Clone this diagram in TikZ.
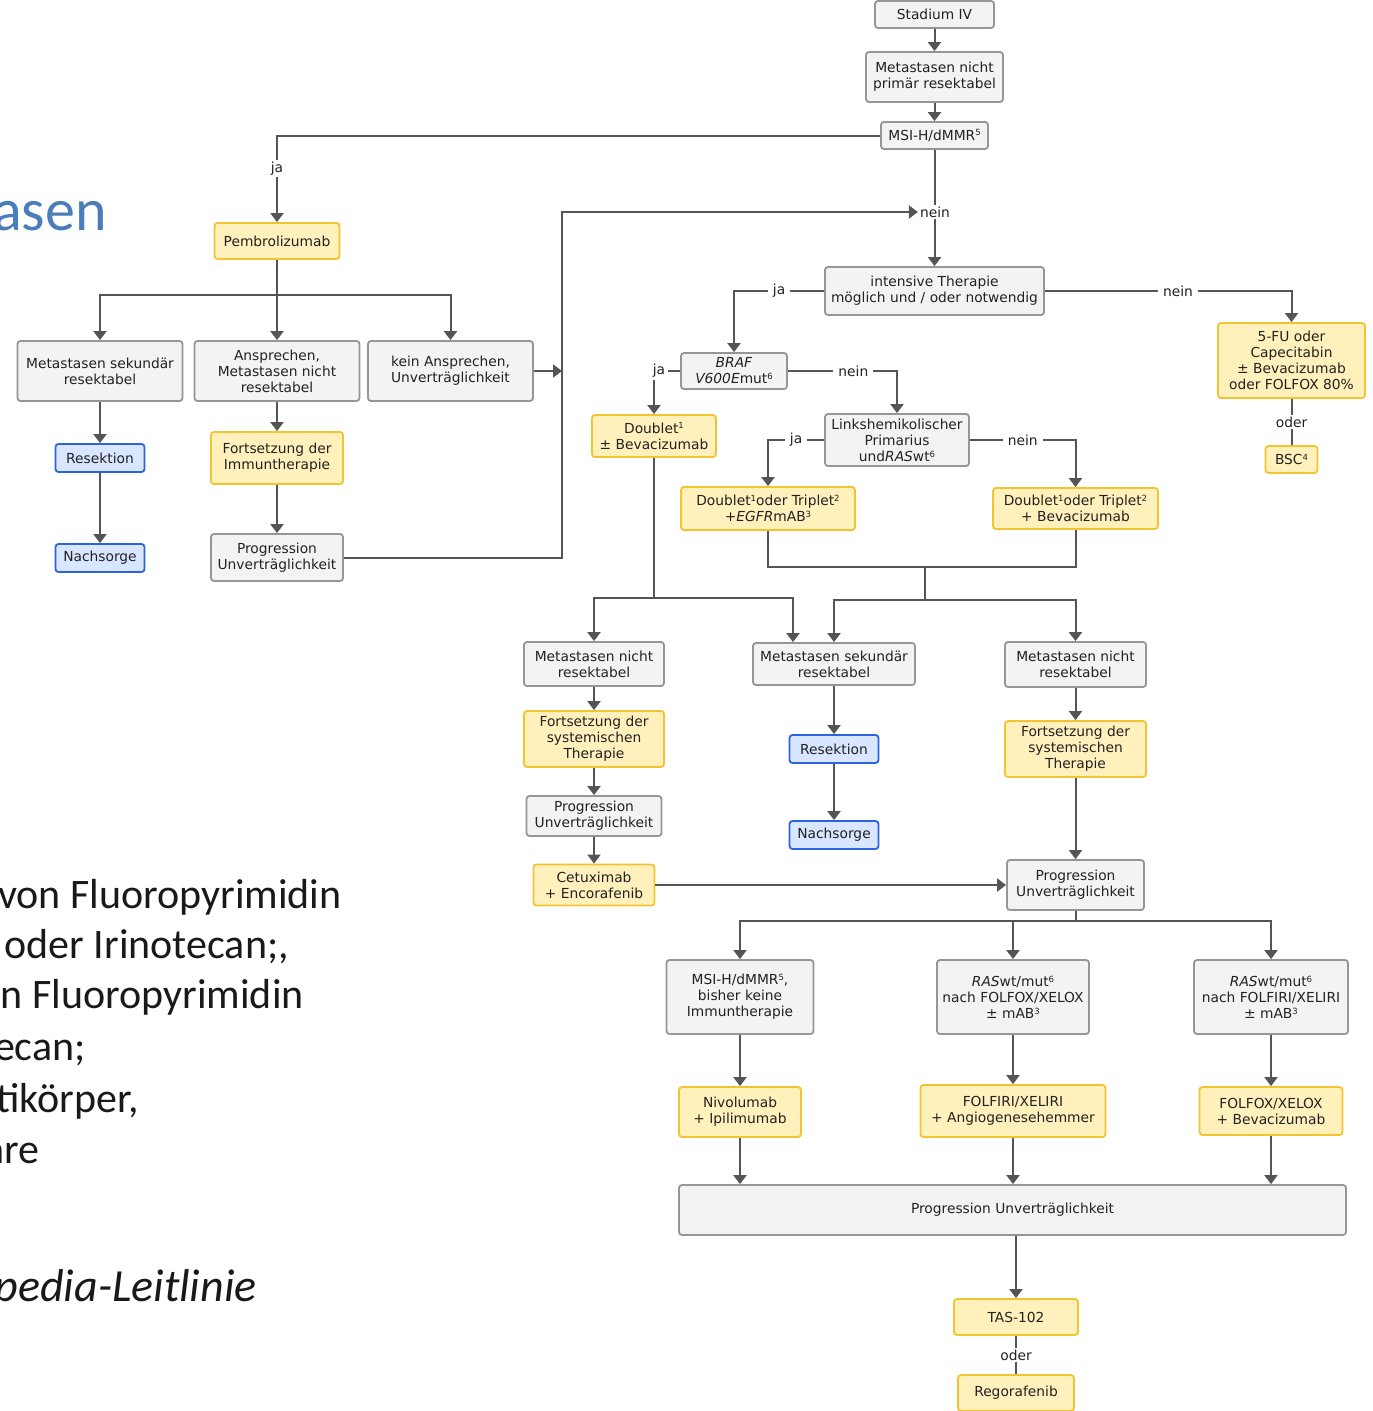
\documentclass[tikz,border=0pt]{standalone}
\usepackage{fontspec}
\setmainfont{DejaVu Sans}
\newfontfamily\slidefont{Carlito}
\usetikzlibrary{arrows.meta,calc}

\definecolor{lineC}{HTML}{555555}
\definecolor{gFill}{HTML}{F3F3F3}
\definecolor{gLine}{HTML}{969696}
\definecolor{yFill}{HTML}{FFF0BC}
\definecolor{yLine}{HTML}{F4C430}
\definecolor{bFill}{HTML}{D9E6FF}
\definecolor{bLine}{HTML}{2A64E0}
\definecolor{titleC}{HTML}{4A7EBB}
\definecolor{txtC}{HTML}{222222}

% small raised footnote digits
\newcommand\supnum[1]{\raisebox{0.55ex}{\fontsize{8.5}{8.5}\selectfont #1}}

\tikzset{
  boxbase/.style={rounded corners=3pt, line width=1.8pt, align=center, inner sep=0pt,
    font=\fontsize{13.8}{16}\selectfont, text=txtC},
  gbox/.style={boxbase, draw=gLine, fill=gFill},
  ybox/.style={boxbase, draw=yLine, fill=yFill},
  bbox/.style={boxbase, draw=bLine, fill=bFill},
  sz/.style 2 args={minimum width=#1pt, minimum height=#2pt},
  arr/.style={draw=lineC, line width=2pt, -{Triangle[width=13pt,length=9pt]}},
  ln/.style={draw=lineC, line width=2pt},
  lbl/.style={fill=white, inner xsep=5pt, inner ysep=2pt, text=txtC, font=\fontsize{13.8}{16}\selectfont},
  slide/.style={anchor=base east, inner sep=0pt, text=black!90,
    font=\slidefont\fontsize{42}{42}\selectfont},
}

\begin{document}
\begin{tikzpicture}[x=1pt,y=-1pt]
\useasboundingbox (0,0) rectangle (1373,1411);
\fill[white] (0,0) rectangle (1373,1411);

% ---------- text of the slide ----------
\node[anchor=base east, inner sep=0pt, text=titleC,
  font=\slidefont\fontsize{60}{60}\selectfont] (ttl) at (107,230) {asen};
\node[slide] (s1) at (342,908) {von Fluoropyrimidin};
\node[slide] (s2) at (289,958) {oder Irinotecan;,};
\node[slide] (s3) at (304,1008) {n Fluoropyrimidin};
\node[slide] (s4) at (86,1060) {ecan;};
\node[slide] (s5) at (139,1112) {tikörper,};
\node[slide] (s6) at (40,1163) {are};
\node[slide,font=\slidefont\itshape\fontsize{46}{46}\selectfont] (s7) at (257,1301) {pedia-Leitlinie};

% ---------- boxes ----------
\node[gbox,sz={119}{27}] (st) at (934.5,14.5) {Stadium IV};
\node[gbox,sz={137}{50}] (mnp) at (934.5,77) {Metastasen nicht\\primär resektabel};
\node[gbox,sz={107}{27}] (msi) at (934.5,135.5) {MSI-H/dMMR\supnum{5}};
\node[gbox,sz={219}{48}] (int) at (934.5,291) {intensive Therapie\\möglich und / oder notwendig};

\node[ybox,sz={125}{36}] (pem) at (277,241) {Pembrolizumab};
\node[gbox,sz={165}{60}] (msr1) at (100,371) {Metastasen sekundär\\resektabel};
\node[gbox,sz={165}{60}] (ans) at (277,371) {Ansprechen,\\Metastasen nicht\\resektabel};
\node[gbox,sz={165}{60}] (kein) at (450.5,371) {kein Ansprechen,\\Unverträglichkeit};
\node[bbox,sz={89}{28}] (res1) at (100,458) {Resektion};
\node[bbox,sz={89}{28}] (nach1) at (100,558) {Nachsorge};
\node[ybox,sz={132}{52}] (fim) at (277,458) {Fortsetzung der\\Immuntherapie};
\node[gbox,sz={132}{47}] (prog1) at (277,557.5) {Progression\\Unverträglichkeit};

\node[gbox,sz={106}{36}] (braf) at (734,371) {\textit{BRAF}\\\textit{V600E}mut\supnum{6}};
\node[ybox,sz={124}{42}] (dbev) at (654,436) {Doublet\supnum{1}\\± Bevacizumab};
\node[gbox,sz={144}{52}] (links) at (897,440) {Linkshemikolischer\\Primarius\\und\textit{RAS}wt\supnum{6}};
\node[ybox,sz={174}{43}] (degfr) at (768,508.5) {Doublet\supnum{1}oder Triplet\supnum{2}\\+\textit{EGFR}mAB\supnum{3}};
\node[ybox,sz={165}{41}] (dtbev) at (1075.5,508.5) {Doublet\supnum{1}oder Triplet\supnum{2}\\+ Bevacizumab};
\node[ybox,sz={147}{75}] (fu) at (1291.5,360.5) {5-FU oder\\Capecitabin\\± Bevacizumab\\oder FOLFOX 80\%};
\node[ybox,sz={52}{27}] (bsc) at (1291.5,459.5) {BSC\supnum{4}};

\node[gbox,sz={140}{44}] (mnr2) at (594,664) {Metastasen nicht\\resektabel};
\node[ybox,sz={140}{56}] (fsys2) at (594,739) {Fortsetzung der\\systemischen\\Therapie};
\node[gbox,sz={135}{40}] (prog2) at (594,816) {Progression\\Unverträglichkeit};
\node[ybox,sz={121}{41}] (cetu) at (594,885) {Cetuximab\\+ Encorafenib};

\node[gbox,sz={162}{42}] (msr3) at (834,664) {Metastasen sekundär\\resektabel};
\node[bbox,sz={89}{28}] (res3) at (834,749) {Resektion};
\node[bbox,sz={89}{28}] (nach3) at (834,835) {Nachsorge};

\node[gbox,sz={141}{45}] (mnr4) at (1075.5,664.5) {Metastasen nicht\\resektabel};
\node[ybox,sz={141}{56}] (fsys4) at (1075.5,749) {Fortsetzung der\\systemischen\\Therapie};
\node[gbox,sz={137}{50}] (prog4) at (1075.5,885) {Progression\\Unverträglichkeit};

\node[gbox,sz={147}{74}] (msi5) at (740,997) {MSI-H/dMMR\supnum{5},\\bisher keine\\Immuntherapie};
\node[gbox,sz={152}{74}] (ras1) at (1013,997) {\textit{RAS}wt/mut\supnum{6}\\nach FOLFOX/XELOX\\± mAB\supnum{3}};
\node[gbox,sz={154}{74}] (ras2) at (1271,997) {\textit{RAS}wt/mut\supnum{6}\\nach FOLFIRI/XELIRI\\± mAB\supnum{3}};
\node[ybox,sz={122}{50}] (nivo) at (740,1112) {Nivolumab\\+ Ipilimumab};
\node[ybox,sz={185}{52}] (folfiri) at (1013,1111) {FOLFIRI/XELIRI\\+ Angiogenesehemmer};
\node[ybox,sz={143}{48}] (folfox) at (1271,1111) {FOLFOX/XELOX\\+ Bevacizumab};
\node[gbox,sz={667}{50}] (progall) at (1012.5,1210) {Progression Unverträglichkeit};
\node[ybox,sz={124}{36}] (tas) at (1016,1317) {TAS-102};
\node[ybox,sz={116}{36}] (rego) at (1016,1393) {Regorafenib};

% ---------- connectors: top ----------
\draw[arr] (st) -- (mnp);
\draw[arr] (mnp) -- (msi);
\draw[arr] (msi.west) -| node[lbl,pos=0.69]{ja} (pem.north);
\draw[arr] (msi.south) -- (int.north);
\node[lbl,inner xsep=2pt] (nein1) at (935,212) {nein};

% left branch (immunotherapy)
\coordinate (pj) at (277,295);
\draw[ln] (pem.south) -- (pj);
\draw[arr] (pj) -| (msr1.north);
\draw[arr] (pj) -- (ans.north);
\draw[arr] (pj) -| (kein.north);
\draw[arr] (msr1) -- (res1);
\draw[arr] (res1) -- (nach1);
\draw[arr] (ans) -- (fim);
\draw[arr] (fim) -- (prog1);
\coordinate (loopc) at (562,212);
\draw[arr] (prog1.east) -| (loopc) -- (nein1.west);
\draw[arr] (kein.east) -- (kein.east -| loopc);

% intensive therapy decisions
\draw[arr] (int.west) -| node[lbl,pos=0.25]{ja} (braf.north);
\draw[arr] (int.east) -| node[lbl,pos=0.27]{nein} (fu.north);
\draw[ln] (fu) -- node[lbl]{oder} (bsc);
\draw[arr] (braf.west) -| node[lbl,pos=0.5,xshift=5pt,inner xsep=3pt]{ja} (dbev.north);
\draw[arr] (braf.east) -| node[lbl,pos=0.3]{nein} (links.north);
\draw[arr] (links.west) -| node[lbl,pos=0.25]{ja} (degfr.north);
\draw[arr] (links.east) -| node[lbl,pos=0.25]{nein} (dtbev.north);

% first line results
\coordinate (dj) at (654,598);
\draw[ln] (dbev.south) -- (dj);
\draw[arr] (dj) -| (mnr2.north);
\draw[arr] (dj) -| ([xshift=-41pt]msr3.north);
\coordinate (ej) at (925,567);
\coordinate (ej2) at (925,600);
\draw[ln] (degfr.south) |- (ej);
\draw[ln] (dtbev.south) |- (ej);
\draw[ln] (ej) -- (ej2);
\draw[arr] (ej2) -| (msr3.north);
\draw[arr] (ej2) -| (mnr4.north);

\draw[arr] (mnr2) -- (fsys2);
\draw[arr] (fsys2) -- (prog2);
\draw[arr] (prog2) -- (cetu);
\draw[arr] (msr3) -- (res3);
\draw[arr] (res3) -- (nach3);
\draw[arr] (mnr4) -- (fsys4);
\draw[arr] (fsys4) -- (prog4);
\draw[arr] (cetu.east) -- (prog4.west);

% second line
\coordinate (pj4) at (1075.5,921);
\draw[ln] (prog4.south) -- (pj4);
\draw[arr] (pj4) -| (msi5.north);
\draw[arr] (pj4) -| (ras1.north);
\draw[arr] (pj4) -| (ras2.north);
\draw[arr] (msi5) -- (nivo);
\draw[arr] (ras1) -- (folfiri);
\draw[arr] (ras2) -- (folfox);
\draw[arr] (nivo.south) -- (nivo.south |- progall.north);
\draw[arr] (folfiri.south) -- (folfiri.south |- progall.north);
\draw[arr] (folfox.south) -- (folfox.south |- progall.north);
\draw[arr] (progall.south -| tas.north) -- (tas.north);
\draw[ln] (tas) -- node[lbl]{oder} (rego);
\end{tikzpicture}
\end{document}
